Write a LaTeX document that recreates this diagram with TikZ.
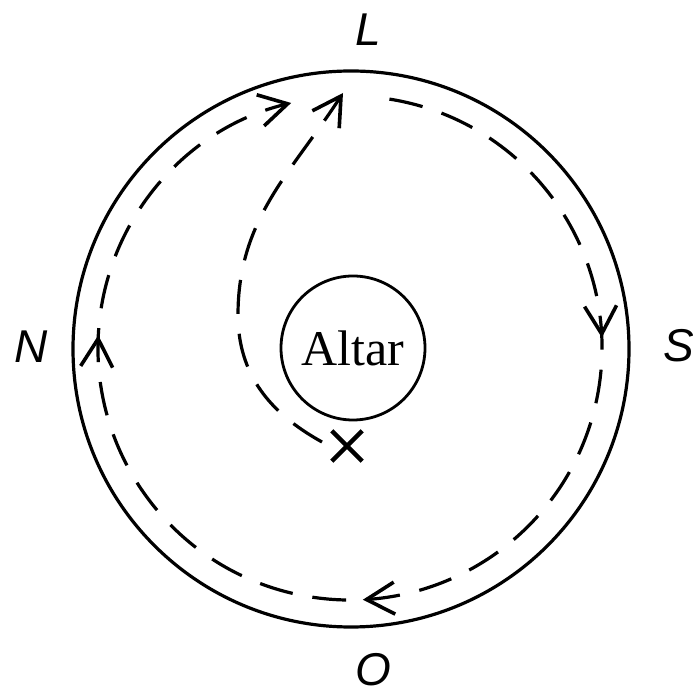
\documentclass[tikz,border=0pt]{standalone}
\usepackage{fontspec}
\setmainfont{Liberation Serif}
\setsansfont{Liberation Sans}
\usetikzlibrary{arrows.meta,decorations.markings,shapes.misc}
\begin{document}
\begin{tikzpicture}[x=0.5pt,y=0.5pt,
  ring/.style={circle,draw,line width=1.6pt,inner sep=0pt},
  route/.style={line width=1.6pt,dash pattern=on 17pt off 10pt},
  barb/.style={-{Straight Barb[length=14pt,width=16pt,line width=1.8pt]}},
  compass/.style={font=\sffamily\itshape\fontsize{23}{23}\selectfont}]
\useasboundingbox (0,0) rectangle (692,696);
\node[ring, minimum size=278pt] (outer) at (351,347) {};
\node[ring, line width=1.4pt, minimum size=72pt, font=\fontsize{25}{25}\selectfont] (altar) at (353,348) {Altar};
\node[cross out, draw, line width=2.2pt, minimum size=13pt, inner sep=0pt] (x) at (347,250) {};
% labels
\node[compass] (L) at (368,666) {L};
\node[compass] (N) at (31,349) {N};
\node[compass] (S) at (679,350) {S};
\node[compass] (O) at (373,26) {O};
% dashed round path
\coordinate (dc) at (350,348);
\coordinate (dstart) at ([shift={(81:252)}]dc);
\draw[route, barb, postaction={decorate}, decoration={markings,
   mark=at position 0.233 with {\arrow{Straight Barb[length=14pt,width=16pt,line width=1.8pt]}},
   mark=at position 0.498 with {\arrow{Straight Barb[length=14pt,width=16pt,line width=1.8pt]}},
   mark=at position 0.782 with {\arrow{Straight Barb[length=14pt,width=16pt,line width=1.8pt]}}}]
  (dstart) arc[start angle=81, end angle=-256.5, radius=252];
% inner path from the cross to L
\coordinate (istart) at (322,254);
\coordinate (ibend) at (238,381);
\coordinate (iend) at (343,603);
\draw[route, barb] (istart) to[out=151,in=-90] (ibend) to[out=90,in=237] (iend);
\end{tikzpicture}
\end{document}
